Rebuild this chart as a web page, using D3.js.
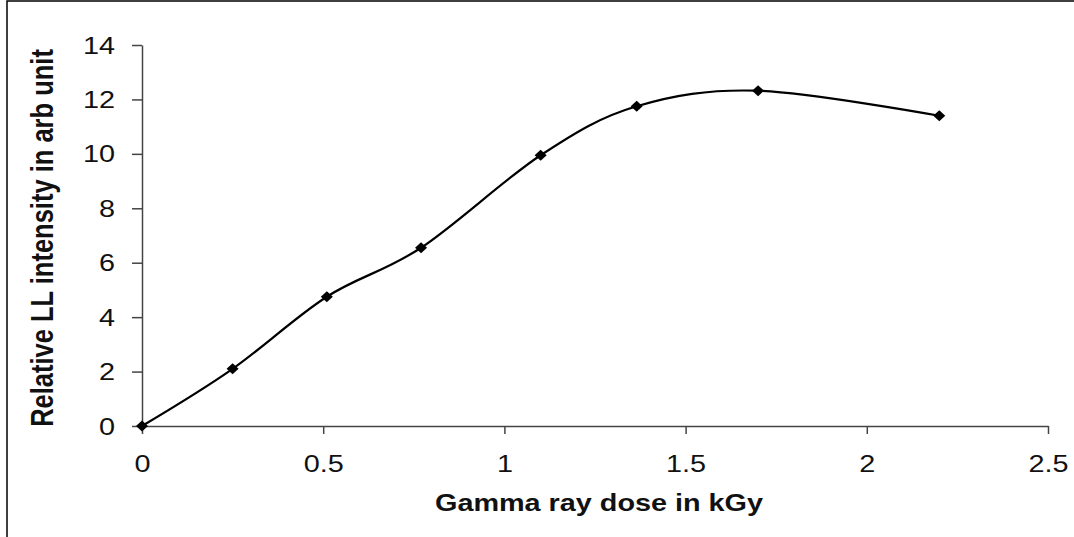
<!DOCTYPE html>
<html>
<head>
<meta charset="utf-8">
<script src="https://cdn.jsdelivr.net/npm/d3@7"></script>
<style>
  body { margin: 0; background: #fff; }
  text { font-family: "Liberation Sans", Arial, sans-serif; }
</style>
</head>
<body>
<div id="chart"></div>
<script>
// dose values (kGy) and relative LL intensity
const doses = [0, 0.25, 0.51, 0.77, 1.10, 1.365, 1.70, 2.20];
const intensities = [0, 2.1, 4.75, 6.55, 9.95, 11.75, 12.32, 11.4];
const xTicks = [0, 0.5, 1, 1.5, 2, 2.5];
const yTicks = [0, 2, 4, 6, 8, 10, 12, 14];

const width = 1074, height = 537;
// the original picture is a bit stretched sideways, so text gets a x-scale
const stretch = 1.2;

let svg = d3.select("#chart").append("svg")
    .attr("width", width)
    .attr("height", height);

// outer frame (only the top and left edges show)
svg.append("rect")
    .attr("x", 7).attr("y", 1)
    .attr("width", 1200).attr("height", 700)
    .attr("fill", "none")
    .attr("stroke", "#000")
    .attr("stroke-width", 1.5);

let x = d3.scaleLinear().domain([0, 2.5]).range([142, 1048]);
let y = d3.scaleLinear().domain([0, 14]).range([426, 45]);

// y axis
let yAxis = svg.append("g")
    .attr("transform", "translate(142,0)")
    .call(d3.axisLeft(y).tickValues(yTicks).tickSize(10).tickSizeOuter(0).tickFormat(d3.format("d")));

yAxis.selectAll("text")
    .attr("x", null).attr("dy", null)
    .attr("transform", "translate(-27,8) scale(" + stretch + ",1)")
    .attr("font-size", 24)
    .attr("fill", "#111");

// x axis
let xAxis = svg.append("g")
    .attr("transform", "translate(0,426)")
    .call(d3.axisBottom(x).tickValues(xTicks).tickSize(8).tickSizeOuter(0).tickFormat(d => d));

xAxis.selectAll("text")
    .attr("y", null).attr("dy", null)
    .attr("transform", "translate(0,46) scale(" + stretch + ",1)")
    .attr("font-size", 24)
    .attr("fill", "#111");

svg.selectAll(".domain, .tick line")
    .attr("stroke", "#444")
    .attr("stroke-width", 1.5);

// axis titles
svg.append("text")
    .attr("transform", "translate(599,511) scale(" + stretch + ",1)")
    .attr("text-anchor", "middle")
    .attr("font-size", 24)
    .attr("font-weight", "bold")
    .attr("fill", "#111")
    .text("Gamma ray dose in kGy");

svg.append("text")
    .attr("transform", "translate(53,238) scale(" + stretch + ",1) rotate(-90)")
    .attr("text-anchor", "middle")
    .attr("font-size", 25.5)
    .attr("font-weight", "bold")
    .attr("fill", "#111")
    .text("Relative LL intensity in arb unit");

// smoothed data line
let points = doses.map((d, i) => [d, intensities[i]]);

let line = d3.line()
    .x(d => x(d[0]))
    .y(d => y(d[1]))
    .curve(d3.curveCatmullRom.alpha(0));

svg.append("path")
    .datum(points)
    .attr("d", line)
    .attr("fill", "none")
    .attr("stroke", "#000")
    .attr("stroke-width", 2.2);

// diamond markers
svg.selectAll(".marker")
    .data(points)
    .enter().append("path")
    .attr("class", "marker")
    .attr("transform", d => "translate(" + x(d[0]) + "," + y(d[1]) + ")")
    .attr("d", "M0,-5.5L6,0L0,5.5L-6,0Z")
    .attr("fill", "#000");
</script>
</body>
</html>
